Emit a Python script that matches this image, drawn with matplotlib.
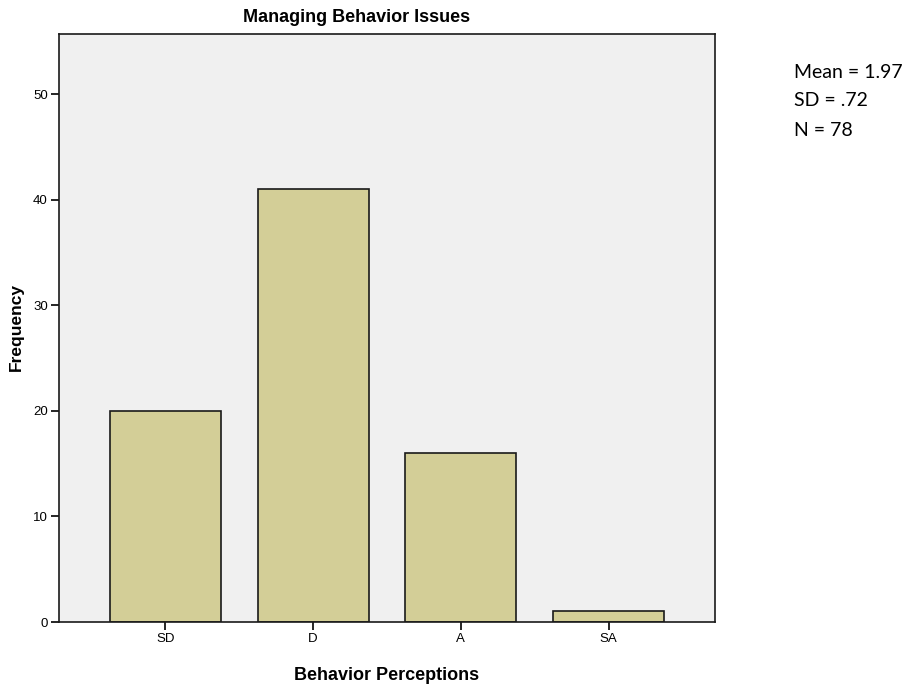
import matplotlib
matplotlib.use("Agg")
import matplotlib.pyplot as plt

categories = ['SD', 'D', 'A', 'SA']
frequencies = [20, 41, 16, 1]
stats_lines = ['Mean = 1.97', 'SD = .72', 'N = 78']

sans = ['Liberation Sans', 'DejaVu Sans']

fig = plt.figure(figsize=(9.02, 6.89), dpi=100)
ax = fig.add_axes([0.0654, 0.0972, 0.7273, 0.8535])
ax.set_facecolor('#F0F0F0')

x = range(len(categories))
ax.bar(x, frequencies, width=0.75, color='#D3CE97', edgecolor='#1a1a1a', linewidth=1.2)

ax.set_xlim(-0.72, 3.72)
ax.set_ylim(0, 55.7)
ax.set_yticks([0, 10, 20, 30, 40, 50])
ax.set_xticks(list(x))
ax.set_xticklabels(categories, family=sans, fontsize=9.5)
for lbl in ax.get_yticklabels():
    lbl.set_family(sans)
    lbl.set_fontsize(9.5)
ax.tick_params(axis='both', length=6, width=1.2, direction='out', pad=2)

for s in ax.spines.values():
    s.set_linewidth(1.2)
    s.set_color('#1a1a1a')

# titles placed by hand so nothing gets clipped
fig.text(357 / 902, 1 - 17 / 689, 'Managing Behavior Issues', family=sans, fontsize=13,
         fontweight='bold', ha='center', va='center')
fig.text(387 / 902, 1 - 676 / 689, 'Behavior Perceptions', family=sans, fontsize=13,
         fontweight='bold', ha='center', va='center')
fig.text(16 / 902, 1 - 327 / 689, 'Frequency', family=sans, fontsize=12.5,
         fontweight='bold', ha='center', va='center', rotation=90)

for i, line in enumerate(stats_lines):
    fig.text(794 / 902, 1 - (72 + i * 29) / 689, line, family=['Lato', 'DejaVu Sans'],
             fontsize=14, ha='left', va='center')

fig.savefig('out.png', dpi=100)
